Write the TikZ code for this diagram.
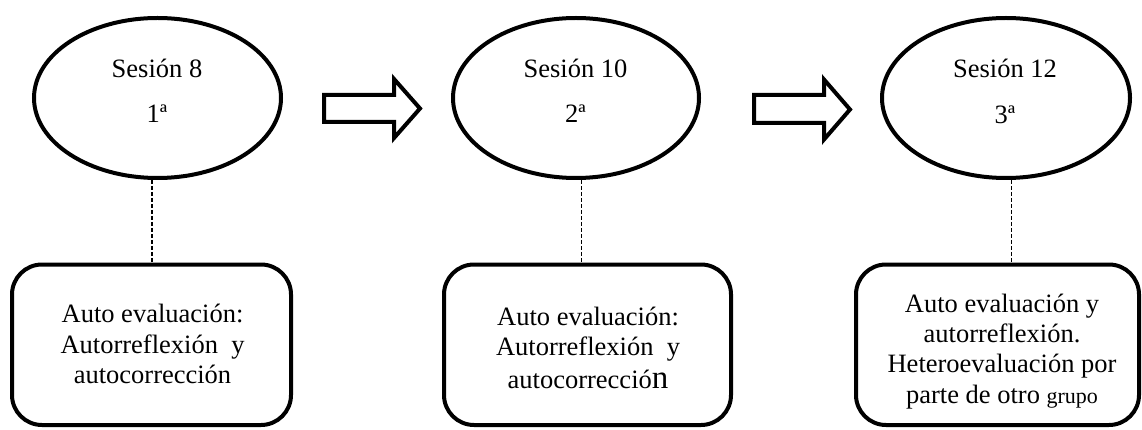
\documentclass[tikz,border=0pt]{standalone}
\usepackage{fontspec}
\setmainfont{Liberation Serif}
\usetikzlibrary{shapes.geometric}
\begin{document}
\begin{tikzpicture}[x=1pt,y=-1pt,
  ses/.style={draw, ellipse, line width=4pt, inner sep=0pt, minimum height=160pt},
  card/.style={draw, rounded corners=30pt, line width=4pt, inner sep=0pt, minimum height=160.5pt},
  txt/.style={anchor=base, inner sep=0pt, font=\fontsize{26.5}{30.5}\selectfont},
  link/.style={line width=1.3pt, dash pattern=on 4pt off 2pt},
  blockarrow/.style={line width=4pt, line join=miter, miter limit=10}]
\useasboundingbox (0,0) rectangle (1142,430);

% sessions
\node[ses, minimum width=247pt] (e1) at (157.5,98) {};
\node[ses, minimum width=246pt] (e2) at (576,98) {};
\node[ses, minimum width=248pt] (e3) at (1006,98) {};

\node[txt] (s1) at (157,78) {Sesión 8};
\node[txt] (n1) at (157,123) {1ª};
\node[txt] (s2) at (575.5,78) {Sesión 10};
\node[txt] (n2) at (575.5,123) {2ª};
\node[txt] (s3) at (1005,78) {Sesión 12};
\node[txt] (n3) at (1005,124) {3ª};

% block arrows
\draw[blockarrow] (324,95) -- (394,95) -- (394,79) -- (420,108.5) -- (394,138) -- (394,122) -- (324,122) -- cycle;
\draw[blockarrow] (754,95) -- (824,95) -- (824,79.5) -- (850,109.5) -- (824,139.5) -- (824,123) -- (754,123) -- cycle;

% cards
\node[card, minimum width=279pt] (b1) at (151.5,344.75) {};
\node[card, minimum width=287pt] (b2) at (587.5,344.75) {};
\node[card, minimum width=283pt] (b3) at (997.5,344.75) {};

\node[txt] (b1l1) at (152.5,322) {Auto evaluación:};
\node[txt] (b1l2) at (152.5,353) {Autorreflexión\ \ y};
\node[txt] (b1l3) at (152.5,383) {autocorrección};

\node[txt] (b2l1) at (588,325) {Auto evaluación:};
\node[txt] (b2l2) at (588,355) {Autorreflexión\ \ y};
\node[txt] (b2l3) at (588,388) {autocorrecció{\fontsize{33}{36}\selectfont n}};

\node[txt] (b3l1) at (1002,312) {Auto evaluación y};
\node[txt] (b3l2) at (1002,342) {autorreflexión.};
\node[txt] (b3l3) at (1002,372.5) {Heteroevaluación\ por};
\node[txt] (b3l4) at (1002,403) {parte de otro {\fontsize{22}{26}\selectfont grupo}};

% connectors
\draw[link] ([xshift=-5.5pt]e1.south) -- ([xshift=-5.5pt]e1.south |- b1.north);
\draw[link] ([xshift=5.5pt]e2.south) -- ([xshift=5.5pt]e2.south |- b2.north);
\draw[link] ([xshift=5.5pt]e3.south) -- ([xshift=5.5pt]e3.south |- b3.north);
\end{tikzpicture}
\end{document}
